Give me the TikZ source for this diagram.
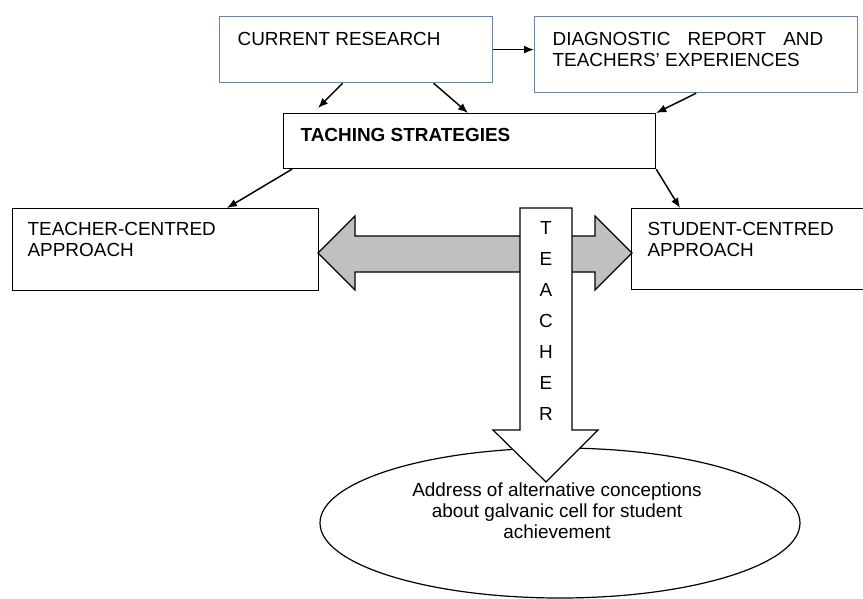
\documentclass[tikz,border=0pt]{standalone}
\usepackage{fontspec}
\setmainfont{Liberation Sans}
\usetikzlibrary{arrows,arrows.meta,shapes.geometric,calc}
\definecolor{boxblue}{RGB}{110,132,156}
\definecolor{arrowgray}{RGB}{192,192,192}
\tikzstyle{block}=[draw=black,line width=0.9pt,fill=white,anchor=north west]
\tikzstyle{blueblock}=[block,draw=boxblue]
\tikzstyle{edge}=[draw,line width=1.1pt,-{Latex[length=7.5pt,width=6pt]}]
\tikzstyle{bigarrow}=[draw=black,line width=0.9pt,line join=miter]
\tikzstyle{goal}=[draw=black,line width=0.9pt,ellipse,minimum width=360pt,minimum height=112.5pt,inner sep=0pt]
\newcommand{\boxtext}[3]{\parbox[t][#1][t]{#2}{#3}}

\begin{document}
\begin{tikzpicture}[x=0.75pt,y=-0.75pt,font=\fontsize{14.2pt}{15.75pt}\selectfont]
	\useasboundingbox (0,0) rectangle (863,599);
	\clip (0,0) rectangle (863,599);

	% First the text boxes
	\node[blueblock,inner xsep=13.5pt,inner ysep=12pt] (cr) at (219,16)
		{\boxtext{25.5pt}{177.75pt}{CURRENT RESEARCH}};
	\node[blueblock,inner xsep=13.5pt,inner ysep=12pt] (diag) at (534,16)
		{\boxtext{33pt}{215.25pt}{\makebox[203pt][s]{DIAGNOSTIC REPORT AND}\\TEACHERS' EXPERIENCES}};
	\node[block,inner xsep=12.75pt,inner ysep=11.25pt] (tach) at (283,113)
		{\boxtext{18.75pt}{253.5pt}{\bfseries TACHING STRATEGIES}};
	\node[block,inner xsep=11.25pt,inner ysep=10pt] (tc) at (12,208)
		{\boxtext{41.5pt}{207pt}{TEACHER-CENTRED\\APPROACH}};
	\node[block,inner xsep=12pt,inner ysep=10pt] (sc) at (631,208)
		{\boxtext{40.75pt}{156pt}{STUDENT-CENTRED\\APPROACH}};

	% Double arrow between the two approaches
	\path[bigarrow,fill=arrowgray] (318,253) -- (355,216) -- (355,236) -- (595,236) -- (595,216)
		-- (632,253) -- (595,290) -- (595,272) -- (355,272) -- (355,290) -- cycle;

	% Goal ellipse and the teacher arrow on top of it
	\node[goal] (goal) at (560,523) {};
	\path[bigarrow,fill=white] (520,208) -- (572,208) -- (572,430) -- (598,430) -- (546,482)
		-- (493,430) -- (520,430) -- cycle;
	\node[anchor=north,inner sep=0pt,align=center,font=\fontsize{14.2pt}{23.25pt}\selectfont] (teacher) at (546,221)
		{T\\E\\A\\C\\H\\E\\R};
	\node[anchor=north,inner sep=0pt,align=center] (goaltext) at (557,483)
		{Address of alternative conceptions\\about galvanic cell for student\\achievement};

	% Free ends of the connectors
	\coordinate (cr-left) at ($(cr.south)+(-13.5,0)$);
	\coordinate (tach-left) at ($(tach.north west)+(35,-5)$);
	\coordinate (cr-right) at ($(cr.south)+(77.5,0)$);
	\coordinate (tach-mid) at ($(tach.north west)+(185,0)$);
	\coordinate (tach-low) at ($(tach.south west)+(9,0)$);
	\coordinate (tc-top) at ($(tc.north west)+(215,0)$);
	\coordinate (sc-top) at ($(sc.north west)+(49,0)$);

	% Connect the boxes
	\foreach \source/\dest in {cr-left/tach-left, cr-right/tach-mid, diag.south/tach.north east,
			tach-low/tc-top, tach.south east/sc-top}
		\path[edge] (\source) -- (\dest);
	\path[edge] (cr.east) -- (cr.east -| diag.west);
\end{tikzpicture}
\end{document}
